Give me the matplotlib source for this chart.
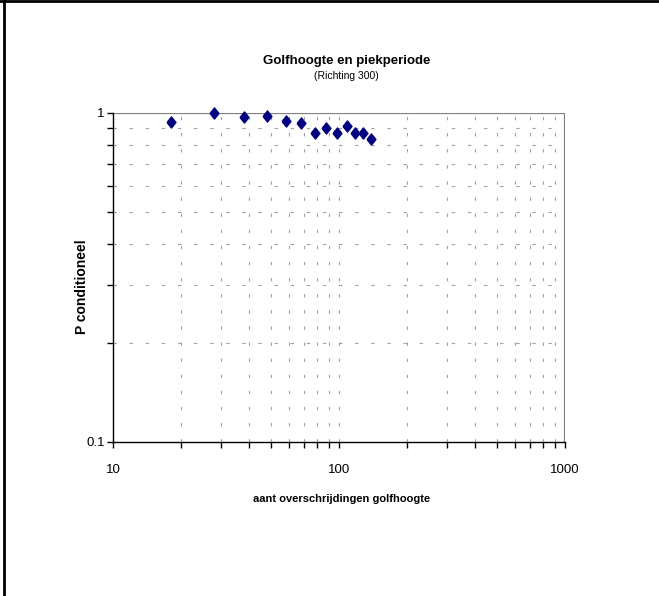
import numpy as np
import matplotlib
matplotlib.use("Agg")
import matplotlib.pyplot as plt
from matplotlib.ticker import LogLocator, NullFormatter, FixedLocator

plt.rcParams['font.family'] = ['Liberation Sans', 'DejaVu Sans']

# data
aantal = [18, 28, 38, 48, 58, 68, 78, 88, 98, 108, 118, 128, 138]
p_cond = [0.939, 1.0, 0.972, 0.977, 0.946, 0.929, 0.869, 0.897, 0.869,
          0.909, 0.866, 0.866, 0.832]

title = 'Golfhoogte en piekperiode'
subtitle = '(Richting 300)'
xlabel = 'aant overschrijdingen golfhoogte'
ylabel = 'P conditioneel'

W, H = 659, 596
fig = plt.figure(figsize=(W / 100, H / 100), dpi=100)
ax = fig.add_axes([0.1715, 0.2584, 0.6859, 0.5525])

# Excel style diamond marker
diamond = [(-0.8, 0), (0, 1), (0.8, 0), (0, -1), (-0.8, 0)]
ax.plot(aantal, p_cond, linestyle='none', marker=diamond, markersize=8,
        color='#000080', zorder=5, clip_on=False)

ax.set_xscale('log')
ax.set_yscale('log')
ax.set_xlim(10, 1000)
ax.set_ylim(0.1, 1)

ax.xaxis.set_major_locator(FixedLocator([10, 100, 1000]))
ax.xaxis.set_minor_locator(LogLocator(base=10, subs=np.arange(2, 10)))
ax.yaxis.set_major_locator(FixedLocator([0.1, 1]))
ax.yaxis.set_minor_locator(LogLocator(base=10, subs=np.arange(2, 10)))
ax.xaxis.set_minor_formatter(NullFormatter())
ax.yaxis.set_minor_formatter(NullFormatter())
ax.set_xticklabels(['10', '100', '1000'])
ax.set_yticklabels(['0.1', '1'])

ax.tick_params(axis='both', which='major', direction='out', length=4,
               width=1, labelsize=9.5, colors='black')
ax.tick_params(axis='both', which='minor', direction='out', length=4,
               width=1, colors='black')
ax.tick_params(axis='x', pad=12)
ax.tick_params(axis='y', pad=2)

# gridlines
ax.grid(True, which='minor', axis='both', color='#a0a0a0', linewidth=0.8,
        linestyle=(0, (3, 11.5)))
ax.axhline(1, color='#808080', linewidth=1.6, zorder=2)
ax.axvline(1000, color='#808080', linewidth=1.6, zorder=2)
ax.axvline(100, color='#a0a0a0', linewidth=0.8, linestyle=(0, (3, 11.5)))

for side in ['top', 'right']:
    ax.spines[side].set_visible(False)
ax.spines['left'].set_linewidth(1)
ax.spines['bottom'].set_linewidth(1)

fig.text(342 / W, 1 - 499 / H, xlabel, fontsize=8, fontweight='bold',
         ha='center', va='center')
fig.text(82 / W, 1 - 287 / H, ylabel, fontsize=10, fontweight='bold',
         ha='center', va='center', rotation=90)

fig.text(347 / W, 1 - 61 / H, title, fontsize=9.5, fontweight='bold',
         ha='center', va='center')
fig.text(346 / W, 1 - 76 / H, subtitle, fontsize=7.5, ha='center',
         va='center')

# chart area border (left and top only visible)
fig.add_artist(plt.Line2D([0.006, 0.006], [0, 1], color='black', linewidth=2))
fig.add_artist(plt.Line2D([0, 1], [0.998, 0.998], color='black', linewidth=2))

fig.savefig('out.png', dpi=100)
